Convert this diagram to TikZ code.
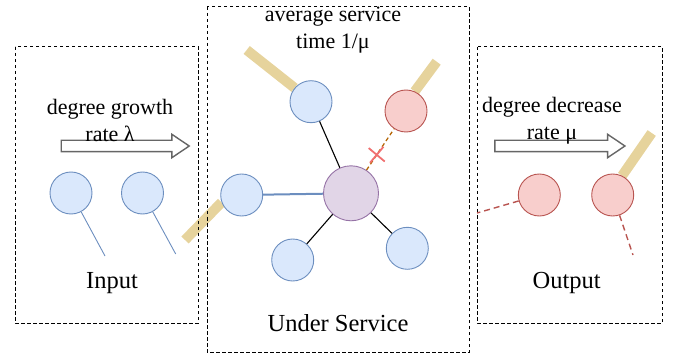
\documentclass[tikz,border=0pt]{standalone}
\usepackage{fontspec}
\setmainfont{Liberation Serif}
\usetikzlibrary{
    positioning,
    backgrounds,
    shapes.arrows,
    shapes.misc
}
\definecolor{bluefill}{HTML}{DAE8FC}
\definecolor{blueline}{HTML}{6C8EBF}
\definecolor{redfill}{HTML}{F8CECC}
\definecolor{redline}{HTML}{B85450}
\definecolor{purplefill}{HTML}{E1D5E7}
\definecolor{purpleline}{HTML}{9673A6}
\definecolor{barcolor}{HTML}{E6D39C}
\definecolor{cutline}{HTML}{B46504}
\definecolor{cutmark}{HTML}{F07070}
\tikzset{
    zone/.style={draw, line width=1pt, dash pattern=on 3.5pt off 2.5pt},
    bnode/.style={circle, draw=blueline, fill=bluefill, line width=0.9pt, minimum size=42pt, inner sep=0pt},
    rnode/.style={circle, draw=redline, fill=redfill, line width=0.9pt, minimum size=42pt, inner sep=0pt},
    hub/.style={circle, draw=purpleline, fill=purplefill, line width=0.9pt, minimum size=55pt, inner sep=0pt},
    bar/.style={barcolor, line width=10pt},
    flow/.style={single arrow, draw=black!60, fill=white, line width=1.4pt, inner sep=5pt,
        minimum width=23pt, single arrow head extend=6pt, single arrow tip angle=68},
    small/.style={font=\fontsize{22}{27}\selectfont, align=center},
    big/.style={font=\fontsize{24.5}{28}\selectfont}
}
\begin{document}
\begin{tikzpicture}[x=1pt, y=-1pt]
    \useasboundingbox (0,0) rectangle (677,358);
    % three zones
    \draw[zone] (15,47) rectangle (198,323);
    \draw[zone] (207,7) rectangle (469,352);
    \draw[zone] (477,47) rectangle (662,323);

    % input side
    \node[flow, minimum height=128pt] (ina) at (121,146) {};
    \node[small] (inlab) at (110,120.5) {degree growth\\rate λ};
    \node[bnode] (in1) at (71,193) {};
    \node[bnode] (in2) at (142.5,193) {};
    \coordinate (in1end) at (105,256);
    \coordinate (in2end) at (175.7,254);
    \draw[blueline, line width=0.9pt] (in1) -- (in1end);
    \draw[blueline, line width=0.9pt] (in2) -- (in2end);
    \node[big] (inname) at (112,283) {Input};

    % under service
    \node[small] (svlab) at (333,30) {average service\\time 1/μ};
    \node[hub] (hub) at (351,193.3) {};
    \node[bnode] (top) at (311,101.7) {};
    \node[bnode] (left) at (241.7,195) {};
    \node[bnode] (botl) at (292.7,260) {};
    \node[bnode] (botr) at (407.3,248.3) {};
    \node[rnode] (gone) at (406,111) {};
    \coordinate (bar1) at (185,240);
    \coordinate (bar2) at (246.7,50);
    \coordinate (bar3) at (436.7,61.7);
    \begin{pgfonlayer}{background}
        \draw[bar] (bar1) -- (left.200);
        \draw[bar] (bar2) -- (top.140);
        \draw[bar] (bar3) -- (gone.66);
    \end{pgfonlayer}
    \draw[black, line width=1.1pt] (top) -- (hub);
    \draw[black, line width=1.1pt] (botl) -- (hub);
    \draw[black, line width=1.1pt] (botr) -- (hub);
    \draw[blueline, line width=2pt] (left) -- (hub);
    \draw[cutline, dash pattern=on 4pt off 3pt, line width=1.3pt] (hub) -- (gone)
        node[pos=0.37, cross out, solid, draw=cutmark, line width=1.8pt, minimum size=13pt, inner sep=0pt, rotate=5] (cut) {};
    \node[big] (svname) at (338,323) {Under Service};

    % output side
    \node[flow, minimum height=130pt] (outa) at (555.7,146) {};
    \node[small] (outlab) at (552,120.5) {degree decrease\\rate μ};
    \node[rnode] (out1) at (539.3,195) {};
    \node[rnode] (out2) at (612.7,195) {};
    \coordinate (out1end) at (477,213);
    \coordinate (out2end) at (633,255);
    \coordinate (bar4) at (651.7,133);
    \begin{pgfonlayer}{background}
        \draw[bar] (bar4) -- (out2.64);
    \end{pgfonlayer}
    \draw[redline, dash pattern=on 6pt off 4pt, line width=1.4pt] (out1) -- (out1end);
    \draw[redline, dash pattern=on 6pt off 4pt, line width=1.4pt] (out2) -- (out2end);
    \node[big] (outname) at (566.7,283) {Output};
\end{tikzpicture}
\end{document}
